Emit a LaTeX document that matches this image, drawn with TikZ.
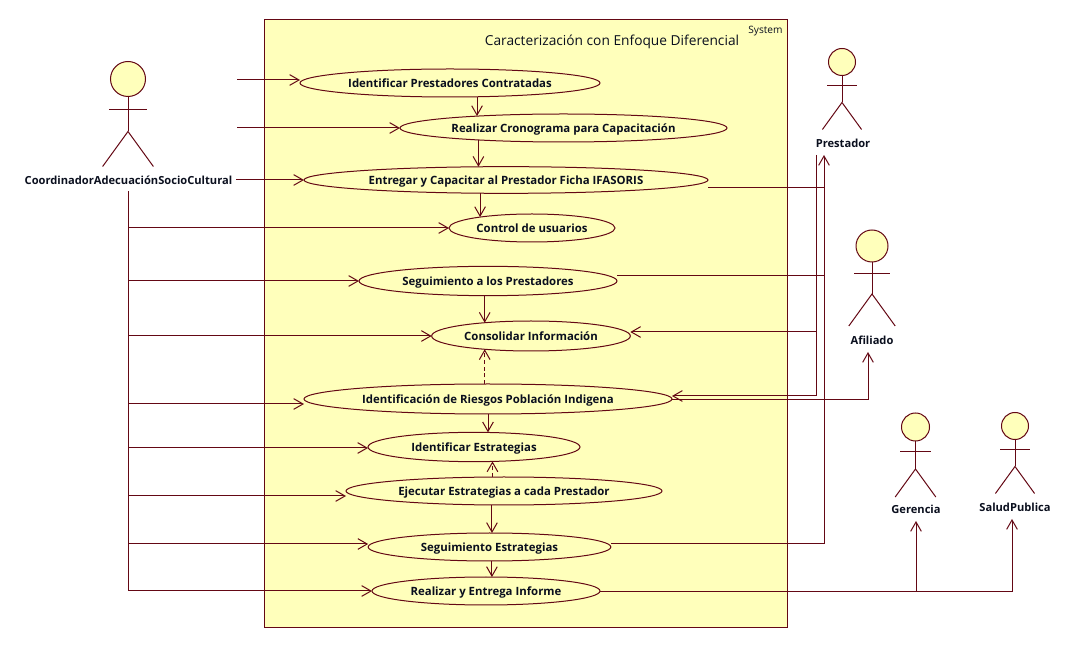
\documentclass[tikz,border=0pt]{standalone}
\usepackage{fontspec}
\setmainfont{Open Sans}
\usetikzlibrary{arrows.meta,shapes.geometric}
\definecolor{LineClr}{RGB}{100,8,20}
\definecolor{BoxClr}{RGB}{255,255,187}
\definecolor{TextClr}{RGB}{10,15,30}
\tikzset{
  sysbox/.style={draw=LineClr,fill=BoxClr,line width=.75pt},
  usecase/.style={ellipse,draw=LineClr,fill=BoxClr,line width=.75pt,inner sep=0pt,outer sep=0pt,
    text=TextClr,text height=7pt,text depth=0pt,font=\fontsize{8.55}{10}\selectfont\bfseries},
  actorhead/.style={circle,draw=LineClr,fill=BoxClr,line width=.75pt,inner sep=0pt,outer sep=0pt},
  actorline/.style={draw=LineClr,line width=.75pt},
  actorlabel/.style={text=TextClr,inner xsep=3pt,inner ysep=5pt,outer sep=0pt,text height=7pt,text depth=0pt,
    font=\fontsize{8.35}{10}\selectfont\bfseries},
  flow/.style={draw=LineClr,line width=.75pt,-{Straight Barb[length=7pt,width=8pt]}},
  plainflow/.style={draw=LineClr,line width=.75pt},
  dashflow/.style={flow,dash pattern=on 3pt off 2pt}
}
\newcommand{\drawActor}[7]{
  \node[actorhead,minimum size=#4*1.5pt] (#1) at (#2,#3) {};
  \draw[actorline] (#1.south) -- (#2,{#3+3*#4}) coordinate (#1Hip);
  \draw[actorline] ({#2-1.1*#4},{#3+1.75*#4}) -- ({#2+1.1*#4},{#3+1.75*#4});
  \draw[actorline] ({#2-1.45*#4},{#3+5*#4}) -- (#1Hip) -- ({#2+1.45*#4},{#3+5*#4});
  \node[actorlabel] (#1Lbl) at (#5,#6) {#7};
}

\begin{document}
\begin{tikzpicture}[x=.75pt,y=-.75pt]
\useasboundingbox (0,0) rectangle (1079,648);

\draw[sysbox] (264,20) rectangle (787,627);
\node[inner sep=0pt,text=TextClr,font=\fontsize{10.3}{12}\selectfont] (sysTitle) at (612,42) {Caracterización con Enfoque Diferencial};
\node[inner sep=0pt,text=TextClr,font=\fontsize{7.6}{9}\selectfont] (sysName) at (765.5,31) {System};

\node[usecase,minimum width=225pt,minimum height=21pt] (ucIdentificar) at (450,83) {Identificar Prestadores Contratadas};
\node[usecase,minimum width=245.25pt,minimum height=21pt] (ucCronograma) at (563.5,128) {Realizar Cronograma para Capacitación};
\node[usecase,minimum width=303pt,minimum height=20pt] (ucEntregar) at (506,180) {Entregar y Capacitar al Prestador Ficha IFASORIS};
\node[usecase,minimum width=124.5pt,minimum height=21pt] (ucControl) at (532,228) {Control de usuarios};
\node[usecase,minimum width=193.5pt,minimum height=22pt] (ucSeguimiento) at (488,281) {Seguimiento a los Prestadores};
\node[usecase,minimum width=149pt,minimum height=22.5pt] (ucConsolidar) at (531,336) {Consolidar Información};
\node[usecase,minimum width=276pt,minimum height=22.5pt] (ucRiesgos) at (488,399) {Identificación de Riesgos Población Indigena};
\node[usecase,minimum width=159pt,minimum height=22pt] (ucEstrategias) at (474,447) {Identificar Estrategias};
\node[usecase,minimum width=237pt,minimum height=21pt] (ucEjecutar) at (504,491) {Ejecutar Estrategias a cada Prestador};
\node[usecase,minimum width=182pt,minimum height=21pt] (ucSegEstr) at (489.5,547) {Seguimiento Estrategias};
\node[usecase,minimum width=171pt,minimum height=21pt] (ucInforme) at (486,591) {Realizar y Entrega Informe};

\drawActor{coord}{128}{79}{17.5}{128.5}{180}{CoordinadorAdecuaciónSocioCultural}
\drawActor{prest}{842}{62}{13.5}{843}{143}{Prestador}
\drawActor{afil}{872}{246}{16}{872}{340}{Afiliado}
\drawActor{geren}{915.5}{427}{14}{916}{509}{Gerencia}
\drawActor{salud}{1015}{426}{13.5}{1015}{507}{SaludPublica}

\coordinate (coordOutA) at (237,80);
\coordinate (coordOutB) at (237,128);
\coordinate (prestIn) at (824,155);
\coordinate (prestOut) at (816,155);
\coordinate (afilIn) at (868,352);
\coordinate (gerenIn) at (916,521);
\coordinate (saludIn) at (1012,519);

\draw[flow] (coordOutA) -- (ucIdentificar.west |- coordOutA);
\draw[flow] (coordOutB) -- (ucCronograma.west |- coordOutB);
\draw[flow] (coordLbl.east) -- (ucEntregar.west);
\draw[flow] (coordLbl.south) |- (ucInforme.west);
\foreach \uc/\yy in {ucControl/228,ucSeguimiento/281,ucConsolidar/336,ucRiesgos/404,ucEstrategias/448,ucEjecutar/496,ucSegEstr/544}
  \draw[flow] (coordLbl.south |- 0,\yy) -- (\uc.west |- 0,\yy);

\draw[flow] (ucIdentificar.-27) -- (ucIdentificar.-27 |- ucCronograma.172);
\draw[flow] (ucCronograma.-172.8) -- (ucCronograma.-172.8 |- ucEntregar.153.6);
\draw[flow] (ucEntregar.-153.6) -- (ucEntregar.-153.6 |- ucControl.168.2);
\draw[flow] (ucSeguimiento.south -| ucConsolidar.164) -- (ucConsolidar.164);
\draw[dashflow] (ucConsolidar.-164 |- ucRiesgos.north) -- (ucConsolidar.-164);
\draw[flow] (ucRiesgos.south) -- (ucRiesgos.south |- ucEstrategias.north);
\draw[dashflow] (ucEstrategias.-38.5 |- ucEjecutar.north) -- (ucEstrategias.-38.5);
\draw[flow] (ucSegEstr.80 |- ucEjecutar.south) -- (ucSegEstr.80);
\draw[flow] (ucInforme.67 |- ucSegEstr.south) -- (ucInforme.67);

\draw[plainflow] (ucEntregar.east |- 0,188) -- (prestIn |- 0,188);
\draw[plainflow] (ucSeguimiento.east |- 0,276) -- (prestIn |- 0,276);
\draw[flow] (ucSegEstr.east |- 0,544) -| (prestIn);
\draw[flow] (prestOut) |- (ucRiesgos.east |- 0,396);
\draw[flow] (prestOut |- 0,332) -- (ucConsolidar.east |- 0,332);
\draw[flow] (ucRiesgos.east |- 0,400) -| (afilIn);
\draw[flow] (ucInforme.east |- 0,592) -| (saludIn);
\draw[flow] (gerenIn |- 0,592) -- (gerenIn);

\end{tikzpicture}
\end{document}
